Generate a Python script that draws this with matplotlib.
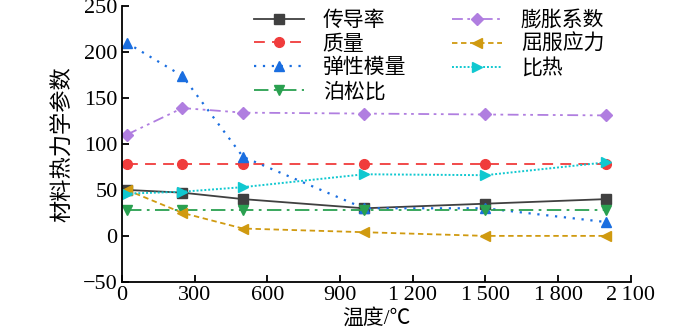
import matplotlib
matplotlib.use("Agg")
import matplotlib.pyplot as plt
from matplotlib.ticker import FuncFormatter

plt.rcParams['font.family'] = ['Liberation Serif', 'Noto Sans CJK SC', 'DejaVu Sans']
plt.rcParams['axes.unicode_minus'] = False

# 温度点
temps = [20, 250, 500, 1000, 1500, 2000]

conductivity = [50, 47, 40, 30, 35, 40]        # 传导率
density = [78, 78, 78, 78, 78, 78]             # 质量
modulus = [210, 174, 86, 30, 30, 15]           # 弹性模量
poisson = [28, 28, 28, 28, 28, 28]             # 泊松比
expansion = [110, 139, 134, 133, 132, 131]     # 膨胀系数
yield_stress = [50, 25, 8, 4, 0, 0]            # 屈服应力
specific_heat = [46, 48, 53, 67, 66, 80]       # 比热

labels = ['传导率', '质量', '弹性模量', '泊松比', '膨胀系数', '屈服应力', '比热']
xticks = [0, 300, 600, 900, 1200, 1500, 1800, 2100]

fig = plt.figure(figsize=(7, 3.32), dpi=100)
ax = fig.add_axes([0.174, 0.151, 0.727, 0.831])

ms = 6.5
ax.plot(temps, conductivity, color='#404040', ls='-', marker='s', ms=ms, lw=1.3, label=labels[0])
ax.plot(temps, density, color='#f03c3c', ls=(0, (6, 4)), marker='o', ms=ms + 0.5, lw=1.3, label=labels[1])
ax.plot(temps, modulus, color='#1a6ee0', ls=(0, (1, 3)), marker='^', ms=ms + 1, lw=1.6, label=labels[2])
ax.plot(temps, poisson, color='#2aa050', ls=(0, (8, 3, 1.5, 3)), marker='v', ms=ms + 1, lw=1.3, label=labels[3])
ax.plot(temps, expansion, color='#b07ee0', ls=(0, (6, 2.5, 1.5, 2.5, 1.5, 2.5)), marker='D', ms=ms - 0.5, lw=1.3, label=labels[4])
ax.plot(temps, yield_stress, color='#d09a10', ls=(0, (3, 2)), marker='<', ms=ms + 1, lw=1.3, label=labels[5])
ax.plot(temps, specific_heat, color='#10c8d0', ls=(0, (1, 1)), marker='>', ms=ms + 1, lw=1.4, label=labels[6])

ax.set_xlim(0, 2100)
ax.set_ylim(-50, 250)
ax.set_xticks(xticks)
ax.set_yticks(range(-50, 251, 50))


def fmt_thousands(v, pos):
    v = int(v)
    if v >= 1000:
        return '%d\u2009%03d' % (v // 1000, v % 1000)
    return str(v)


ax.xaxis.set_major_formatter(FuncFormatter(fmt_thousands))
ax.yaxis.set_major_formatter(FuncFormatter(lambda v, p: '\u2212%d' % -v if v < 0 else '%d' % v))

for s in ['top', 'right']:
    ax.spines[s].set_visible(False)
for s in ['left', 'bottom']:
    ax.spines[s].set_linewidth(1.3)
ax.tick_params(direction='in', length=5, width=1.3, labelsize=16, pad=3)

ax.set_xlabel('温度/℃', fontsize=15, labelpad=3)
ax.set_ylabel('材料热力学参数', fontsize=16, labelpad=6)

ax.legend(ncol=2, frameon=False, fontsize=15, loc='upper right',
          bbox_to_anchor=(0.985, 1.05), handlelength=2.4, handletextpad=0.9,
          columnspacing=2.2, labelspacing=0.2)

fig.savefig('out.png', dpi=100)
